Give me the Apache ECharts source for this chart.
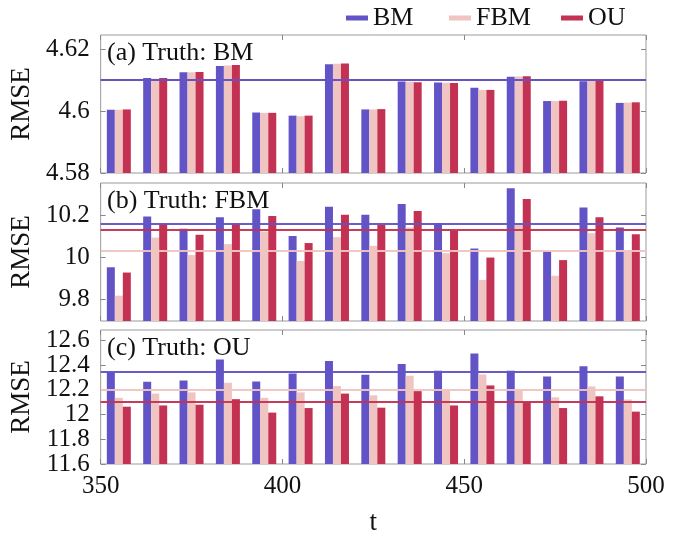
<!DOCTYPE html>
<html><head><meta charset="utf-8">
<script src="https://cdn.jsdelivr.net/npm/echarts@6/dist/echarts.min.js"></script>
<style>html,body{margin:0;padding:0;background:#fff}#c{width:693px;height:537px}</style>
</head><body><div id="c"></div>
<script>
const tValues = [355,365,375,385,395,405,415,425,435,445,455,465,475,485,495];
const seriesNames = ['BM','FBM','OU'];
const panelTitles = ['(a) Truth: BM','(b) Truth: FBM','(c) Truth: OU'];
const xTicks = [350,400,450,500];

// Panel (a) Truth: BM
const aBM  = [4.6004,4.6106,4.6125,4.6145,4.5995,4.5985,4.6151,4.6005,4.6095,4.6092,4.6075,4.6110,4.6032,4.6096,4.6026];
const aFBM = [4.6004,4.6104,4.6125,4.6147,4.5994,4.5983,4.6152,4.6005,4.6094,4.6091,4.6068,4.6111,4.6032,4.6097,4.6027];
const aOU  = [4.6005,4.6106,4.6126,4.6148,4.5994,4.5985,4.6153,4.6006,4.6093,4.6090,4.6068,4.6112,4.6033,4.6098,4.6028];
const aMean = [4.607,4.607,4.607];
const aTicks = [4.58,4.6,4.62];

// Panel (b) Truth: FBM
const bBM  = [9.952,10.193,10.135,10.190,10.228,10.101,10.239,10.201,10.252,10.162,10.041,10.327,10.027,10.236,10.141];
const bFBM = [9.817,10.093,10.010,10.062,10.122,9.982,10.095,10.054,10.141,10.019,9.892,10.154,9.912,10.114,10.030];
const bOU  = [9.927,10.159,10.106,10.159,10.195,10.067,10.201,10.154,10.219,10.125,9.998,10.276,9.986,10.190,10.109];
const bMean = [10.162,10.033,10.127];
const bTicks = [9.8,10,10.2];

// Panel (c) Truth: OU
const cBM  = [12.343,12.266,12.276,12.447,12.268,12.332,12.433,12.322,12.410,12.356,12.495,12.356,12.308,12.391,12.308];
const cFBM = [12.136,12.170,12.180,12.258,12.136,12.180,12.231,12.156,12.314,12.200,12.324,12.200,12.140,12.228,12.122];
const cOU  = [12.064,12.074,12.080,12.125,12.016,12.053,12.170,12.056,12.190,12.074,12.236,12.100,12.053,12.148,12.024];
const cMean = [12.353,12.200,12.098];
const cTicks = [11.6,11.8,12,12.2,12.4,12.6];

const colors = ['#6254c6','#f0c4c0','#c33252'];
const FONT = 'Liberation Serif';
const panels = [
  {data:[aBM,aFBM,aOU], mean:aMean, ticks:aTicks, min:4.58, max:4.6245, top:35, height:138},
  {data:[bBM,bFBM,bOU], mean:bMean, ticks:bTicks, min:9.697, max:10.352, top:183, height:138},
  {data:[cBM,cFBM,cOU], mean:cMean, ticks:cTicks, min:11.6, max:12.685, top:330, height:137}
];
const fmt = v => String(parseFloat(Number(v).toFixed(3)));
const labelStyle = {fontFamily:FONT, fontSize:25, color:'#111', showMinLabel:true, showMaxLabel:true, hideOverlap:false};
const grid=[], xAxis=[], yAxis=[], series=[], graphic=[];
panels.forEach((p,i)=>{
  grid.push({left:98, right:47, top:p.top, height:p.height, show:true, borderColor:'#9a9a9a', borderWidth:1, containLabel:false});
  const last = i===panels.length-1;
  const xi = xAxis.length;
  xAxis.push({type:'value', gridIndex:i, min:350, max:500, position:'bottom',
    axisLine:{show:false}, splitLine:{show:false},
    axisTick:{show:true, inside:true, length:5, lineStyle:{color:'#888'}, customValues:xTicks},
    axisLabel:Object.assign({show:last, customValues:xTicks, margin:10}, labelStyle),
    name: last?'t':'', nameLocation:'middle', nameGap:45, nameTextStyle:{fontFamily:FONT, fontSize:27, color:'#111'}});
  xAxis.push({type:'value', gridIndex:i, min:350, max:500, position:'top',
    axisLine:{show:false}, splitLine:{show:false},
    axisTick:{show:true, inside:true, length:5, lineStyle:{color:'#888'}, customValues:xTicks},
    axisLabel:{show:false}});
  // labels split into two interleaved sets so that closely spaced labels are not auto-hidden
  const setA = p.ticks.filter((v,j)=>j%2===0), setB = p.ticks.filter((v,j)=>j%2===1);
  const yi = yAxis.length;
  yAxis.push({type:'value', gridIndex:i, min:p.min, max:p.max, position:'left',
    axisLine:{show:false}, splitLine:{show:false},
    axisTick:{show:true, inside:true, length:5, lineStyle:{color:'#888'}, customValues:p.ticks},
    axisLabel:Object.assign({customValues:setA, formatter:fmt, margin:11}, labelStyle),
    name:'RMSE', nameLocation:'middle', nameGap:60, nameRotate:90,
    nameTextStyle:{fontFamily:FONT, fontSize:27, color:'#111'}});
  yAxis.push({type:'value', gridIndex:i, min:p.min, max:p.max, position:'left', offset:0,
    axisLine:{show:false}, splitLine:{show:false}, axisTick:{show:false},
    axisLabel:Object.assign({customValues:setB, formatter:fmt, margin:11}, labelStyle)});
  yAxis.push({type:'value', gridIndex:i, min:p.min, max:p.max, position:'right',
    axisLine:{show:false}, splitLine:{show:false},
    axisTick:{show:true, inside:true, length:5, lineStyle:{color:'#888'}, customValues:p.ticks},
    axisLabel:{show:false}});
  p.data.forEach((arr,k)=>{
    series.push({type:'bar', name:seriesNames[k], xAxisIndex:xi, yAxisIndex:yi,
      data: tValues.map((t,j)=>[t,arr[j]]), barWidth:8, barGap:'0%', clip:true,
      itemStyle:{color:colors[k]}});
  });
  [1,2,0].forEach(k=>{
    series.push({type:'line', name:seriesNames[k]+'_mean', xAxisIndex:xi, yAxisIndex:yi,
      data:[], silent:true,
      markLine:{silent:true, symbol:'none', label:{show:false},
        lineStyle:{color:colors[k], width:2.2, type:'solid', opacity:0.95},
        data:[{yAxis:p.mean[k]}]}});
  });
  graphic.push({type:'text', left:107, top:p.top+5, z:100, silent:true,
    style:{text:panelTitles[i], font:'26px "Liberation Serif"', fill:'#111'}});
});
const legendLefts = [341,444,556];
const legend = seriesNames.map((n,k)=>({data:[n], top:0, left:legendLefts[k], itemWidth:22, itemHeight:5,
    icon:'rect', textStyle:{fontFamily:FONT, fontSize:26, color:'#111'}}));
const chart = echarts.init(document.getElementById('c'));
chart.setOption({
  animation:false,
  grid, xAxis, yAxis, series, legend, graphic
});
</script></body></html>
